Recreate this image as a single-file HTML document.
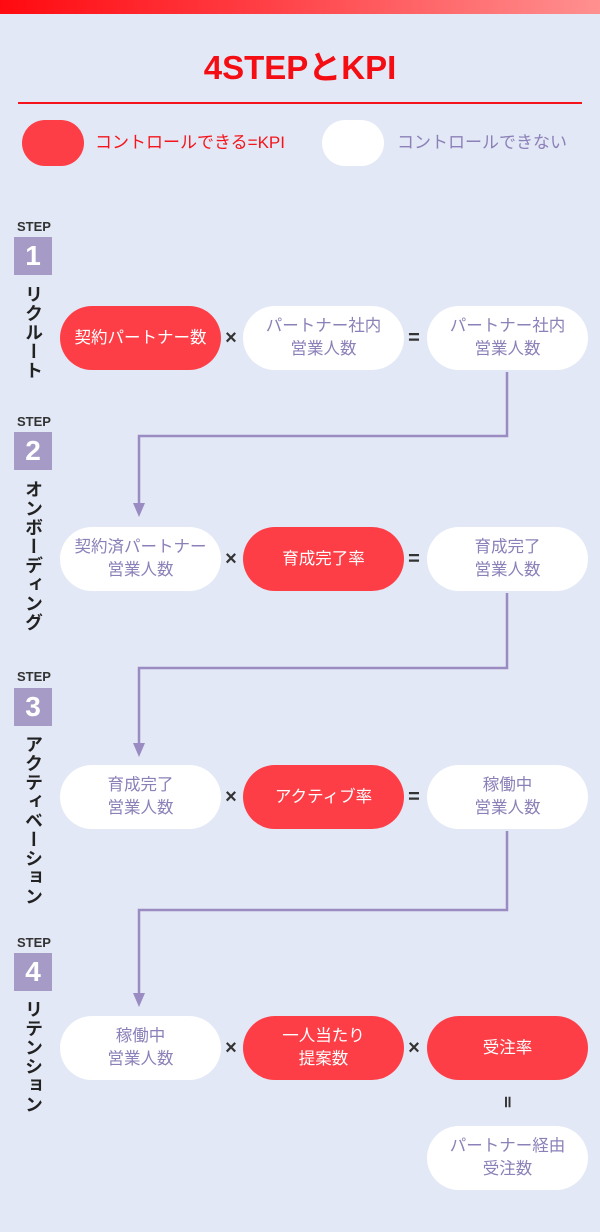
<!DOCTYPE html>
<html><head><meta charset="utf-8">
<style>
*{margin:0;padding:0;box-sizing:border-box}
body{width:600px;height:1232px;background:#e2e8f5;position:relative;overflow:hidden;font-family:"Liberation Sans","Noto Sans CJK JP",sans-serif}
.bar{position:absolute;left:0;top:0;width:600px;height:14px;background:linear-gradient(90deg,#ff0a10,#ff3a40 40%,#ff9090)}
.title{position:absolute;left:0;width:600px;top:48px;text-align:center;color:#f50d14;font-size:33px;font-weight:bold;letter-spacing:0px;line-height:40px}
.hr{position:absolute;left:18px;width:564px;top:102px;height:2px;background:#f5141b}
.pill{position:absolute;border-radius:32px;display:flex;align-items:center;justify-content:center;text-align:center;font-size:16.5px;line-height:23px}
.r{background:#fd3e47;color:#fff}
.w{background:#fff;color:#8c80b8}
.lg{position:absolute;font-size:17px;line-height:20px}
.step{position:absolute;left:14px;width:40px;text-align:center;font-size:13px;font-weight:bold;color:#333;line-height:14px}
.box{position:absolute;left:14px;width:38px;height:38px;background:#a59bc6;color:#fff;font-size:28px;font-weight:bold;text-align:center;line-height:38px}
.vt{position:absolute;left:22px;writing-mode:vertical-rl;font-size:18px;font-weight:bold;color:#222;letter-spacing:1px;line-height:22px}
.op{position:absolute;font-size:20px;font-weight:bold;color:#333;width:20px;text-align:center;line-height:20px}
</style></head><body>
<div class="bar"></div>
<div class="title">4STEPとKPI</div>
<div class="hr"></div>
<div class="pill r" style="left:22px;top:120px;width:62px;height:46px"></div>
<div class="lg" style="left:95px;top:133px;color:#f5141b">コントロールできる=KPI</div>
<div class="pill w" style="left:322px;top:120px;width:62px;height:46px"></div>
<div class="lg" style="left:397px;top:133px;color:#8c80b8">コントロールできない</div>

<div class="step" style="top:220px">STEP</div><div class="box" style="top:237px">1</div>
<div class="vt" style="top:285px">リクルート</div>
<div class="step" style="top:415px">STEP</div><div class="box" style="top:432px">2</div>
<div class="vt" style="top:480px">オンボーディング</div>
<div class="step" style="top:670px">STEP</div><div class="box" style="top:688px">3</div>
<div class="vt" style="top:735px">アクティベーション</div>
<div class="step" style="top:936px">STEP</div><div class="box" style="top:953px">4</div>
<div class="vt" style="top:1000px">リテンション</div>

<svg style="position:absolute;left:0;top:0" width="600" height="1232">
<g fill="none" stroke="#9a8cc2" stroke-width="2.5">
<polyline points="507,372 507,436 139,436 139,508"/>
<polyline points="507,593 507,668 139,668 139,748"/>
<polyline points="507,831 507,910 139,910 139,998"/>
</g>
<g fill="#9a8cc2">
<polygon points="133,503 145,503 139,517"/>
<polygon points="133,743 145,743 139,757"/>
<polygon points="133,993 145,993 139,1007"/>
</g>
</svg>

<div class="pill r" style="left:60px;top:306px;width:161px;height:64px">契約パートナー数</div>
<div class="op" style="left:221px;top:328px">×</div>
<div class="pill w" style="left:243px;top:306px;width:161px;height:64px">パートナー社内<br>営業人数</div>
<div class="op" style="left:404px;top:328px">=</div>
<div class="pill w" style="left:427px;top:306px;width:161px;height:64px">パートナー社内<br>営業人数</div>

<div class="pill w" style="left:60px;top:527px;width:161px;height:64px">契約済パートナー<br>営業人数</div>
<div class="op" style="left:221px;top:549px">×</div>
<div class="pill r" style="left:243px;top:527px;width:161px;height:64px">育成完了率</div>
<div class="op" style="left:404px;top:549px">=</div>
<div class="pill w" style="left:427px;top:527px;width:161px;height:64px">育成完了<br>営業人数</div>

<div class="pill w" style="left:60px;top:765px;width:161px;height:64px">育成完了<br>営業人数</div>
<div class="op" style="left:221px;top:787px">×</div>
<div class="pill r" style="left:243px;top:765px;width:161px;height:64px">アクティブ率</div>
<div class="op" style="left:404px;top:787px">=</div>
<div class="pill w" style="left:427px;top:765px;width:161px;height:64px">稼働中<br>営業人数</div>

<div class="pill w" style="left:60px;top:1016px;width:161px;height:64px">稼働中<br>営業人数</div>
<div class="op" style="left:221px;top:1038px">×</div>
<div class="pill r" style="left:243px;top:1016px;width:161px;height:64px">一人当たり<br>提案数</div>
<div class="op" style="left:404px;top:1038px">×</div>
<div class="pill r" style="left:427px;top:1016px;width:161px;height:64px">受注率</div>
<div class="op" style="left:497px;top:1093px;font-size:16px">॥</div>
<div class="pill w" style="left:427px;top:1126px;width:161px;height:64px">パートナー経由<br>受注数</div>
</body></html>
